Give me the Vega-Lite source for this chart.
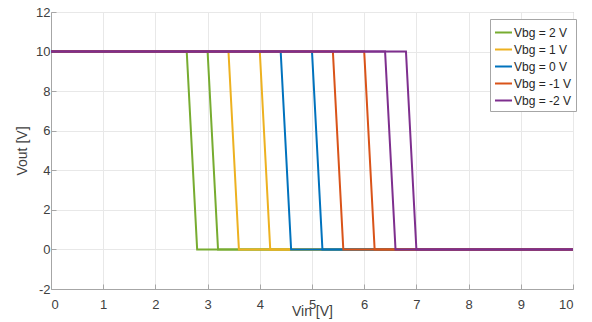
{
  "$schema": "https://vega.github.io/schema/vega-lite/v6.json",
  "width": 522,
  "height": 277,
  "autosize": "none",
  "padding": {"left": 51, "top": 12, "right": 19, "bottom": 33},
  "background": "white",
  "config": {
    "font": "Liberation Sans",
    "view": {"stroke": "#a6a6a6", "strokeWidth": 1},
    "axis": {
      "gridColor": "#e8e8e8",
      "gridWidth": 1,
      "domainColor": "#a6a6a6",
      "tickColor": "#a6a6a6",
      "labelColor": "#404040",
      "labelFontSize": 13,
      "titleColor": "#404040",
      "titleFontSize": 14,
      "titleFontWeight": "normal"
    }
  },
  "data": {
    "values": [
      {"vbg": "Vbg = 2 V", "sweep": "a", "i": 0, "vin": 0, "vout": 10},
      {"vbg": "Vbg = 2 V", "sweep": "a", "i": 1, "vin": 2.6, "vout": 10},
      {"vbg": "Vbg = 2 V", "sweep": "a", "i": 2, "vin": 2.8, "vout": 0},
      {"vbg": "Vbg = 2 V", "sweep": "a", "i": 3, "vin": 10, "vout": 0},
      {"vbg": "Vbg = 2 V", "sweep": "b", "i": 0, "vin": 0, "vout": 10},
      {"vbg": "Vbg = 2 V", "sweep": "b", "i": 1, "vin": 3.0, "vout": 10},
      {"vbg": "Vbg = 2 V", "sweep": "b", "i": 2, "vin": 3.2, "vout": 0},
      {"vbg": "Vbg = 2 V", "sweep": "b", "i": 3, "vin": 10, "vout": 0},
      {"vbg": "Vbg = 1 V", "sweep": "a", "i": 0, "vin": 0, "vout": 10},
      {"vbg": "Vbg = 1 V", "sweep": "a", "i": 1, "vin": 3.4, "vout": 10},
      {"vbg": "Vbg = 1 V", "sweep": "a", "i": 2, "vin": 3.6, "vout": 0},
      {"vbg": "Vbg = 1 V", "sweep": "a", "i": 3, "vin": 10, "vout": 0},
      {"vbg": "Vbg = 1 V", "sweep": "b", "i": 0, "vin": 0, "vout": 10},
      {"vbg": "Vbg = 1 V", "sweep": "b", "i": 1, "vin": 4.0, "vout": 10},
      {"vbg": "Vbg = 1 V", "sweep": "b", "i": 2, "vin": 4.2, "vout": 0},
      {"vbg": "Vbg = 1 V", "sweep": "b", "i": 3, "vin": 10, "vout": 0},
      {"vbg": "Vbg = 0 V", "sweep": "a", "i": 0, "vin": 0, "vout": 10},
      {"vbg": "Vbg = 0 V", "sweep": "a", "i": 1, "vin": 4.4, "vout": 10},
      {"vbg": "Vbg = 0 V", "sweep": "a", "i": 2, "vin": 4.6, "vout": 0},
      {"vbg": "Vbg = 0 V", "sweep": "a", "i": 3, "vin": 10, "vout": 0},
      {"vbg": "Vbg = 0 V", "sweep": "b", "i": 0, "vin": 0, "vout": 10},
      {"vbg": "Vbg = 0 V", "sweep": "b", "i": 1, "vin": 5.0, "vout": 10},
      {"vbg": "Vbg = 0 V", "sweep": "b", "i": 2, "vin": 5.2, "vout": 0},
      {"vbg": "Vbg = 0 V", "sweep": "b", "i": 3, "vin": 10, "vout": 0},
      {"vbg": "Vbg = -1 V", "sweep": "a", "i": 0, "vin": 0, "vout": 10},
      {"vbg": "Vbg = -1 V", "sweep": "a", "i": 1, "vin": 5.4, "vout": 10},
      {"vbg": "Vbg = -1 V", "sweep": "a", "i": 2, "vin": 5.6, "vout": 0},
      {"vbg": "Vbg = -1 V", "sweep": "a", "i": 3, "vin": 10, "vout": 0},
      {"vbg": "Vbg = -1 V", "sweep": "b", "i": 0, "vin": 0, "vout": 10},
      {"vbg": "Vbg = -1 V", "sweep": "b", "i": 1, "vin": 6.0, "vout": 10},
      {"vbg": "Vbg = -1 V", "sweep": "b", "i": 2, "vin": 6.2, "vout": 0},
      {"vbg": "Vbg = -1 V", "sweep": "b", "i": 3, "vin": 10, "vout": 0},
      {"vbg": "Vbg = -2 V", "sweep": "a", "i": 0, "vin": 0, "vout": 10},
      {"vbg": "Vbg = -2 V", "sweep": "a", "i": 1, "vin": 6.4, "vout": 10},
      {"vbg": "Vbg = -2 V", "sweep": "a", "i": 2, "vin": 6.6, "vout": 0},
      {"vbg": "Vbg = -2 V", "sweep": "a", "i": 3, "vin": 10, "vout": 0},
      {"vbg": "Vbg = -2 V", "sweep": "b", "i": 0, "vin": 0, "vout": 10},
      {"vbg": "Vbg = -2 V", "sweep": "b", "i": 1, "vin": 6.8, "vout": 10},
      {"vbg": "Vbg = -2 V", "sweep": "b", "i": 2, "vin": 7.0, "vout": 0},
      {"vbg": "Vbg = -2 V", "sweep": "b", "i": 3, "vin": 10, "vout": 0}
    ]
  },
  "mark": {"type": "line", "strokeWidth": 2},
  "encoding": {
    "x": {
      "field": "vin", "type": "quantitative",
      "scale": {"domain": [0, 10], "nice": false},
      "axis": {"values": [0,1,2,3,4,5,6,7,8,9,10], "labelExpr": "toString(datum.value)", "title": "Vin [V]", "tickSize": -5, "labelPadding": 14, "titleY": 26, "titleBaseline": "alphabetic"}
    },
    "y": {
      "field": "vout", "type": "quantitative",
      "scale": {"domain": [-2, 12], "nice": false},
      "axis": {"values": [-2,0,2,4,6,8,10,12], "labelExpr": "toString(datum.value)", "title": "Vout [V]", "tickSize": -5, "labelPadding": 6, "titleX": -25, "titleBaseline": "alphabetic"}
    },
    "color": {
      "field": "vbg", "type": "nominal",
      "scale": {
        "domain": ["Vbg = 2 V", "Vbg = 1 V", "Vbg = 0 V", "Vbg = -1 V", "Vbg = -2 V"],
        "range": ["#77AC30", "#EDB120", "#0072BD", "#D95319", "#7E2F8E"]
      },
      "legend": {
        "title": null,
        "orient": "none",
        "legendX": 439,
        "legendY": 7,
        "symbolType": "stroke",
        "symbolSize": 289,
        "symbolStrokeWidth": 2,
        "labelFontSize": 12,
        "labelColor": "#262626",
        "labelOffset": 1,
        "rowPadding": 1,
        "padding": 4,
        "strokeColor": "#a6a6a6",
        "fillColor": "white"
      }
    },
    "detail": {"field": "sweep", "type": "nominal"},
    "order": {"field": "i", "type": "quantitative"}
  }
}
